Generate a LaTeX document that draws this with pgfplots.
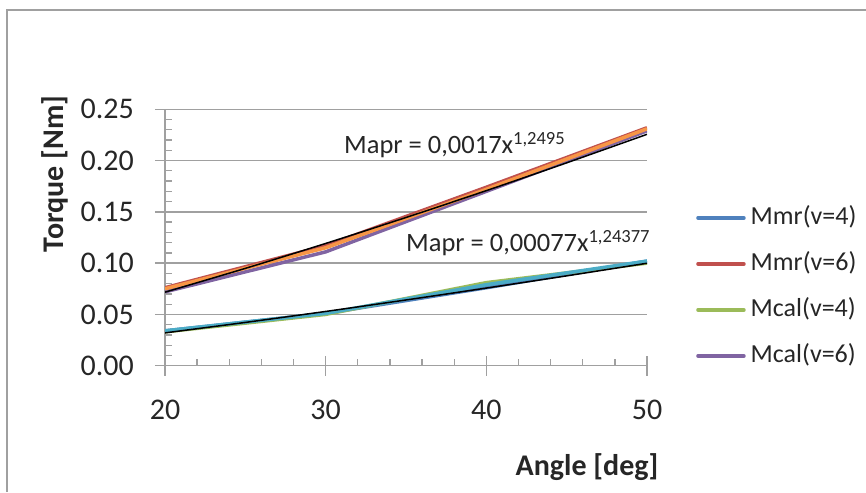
\documentclass[border=0pt]{standalone}
\usepackage{fontspec}
\setmainfont{Carlito}
\usepackage{pgfplots}
\pgfplotsset{compat=1.18}
\definecolor{xblue}{HTML}{4F81BD}
\definecolor{xred}{HTML}{C0504D}
\definecolor{xgreen}{HTML}{9BBB59}
\definecolor{xpurple}{HTML}{8064A2}
\definecolor{xaqua}{HTML}{4BACC6}
\definecolor{xorange}{HTML}{F79646}
\definecolor{axgray}{HTML}{A0A0A0}

\begin{document}
\begin{tikzpicture}
\useasboundingbox (0pt,0pt) rectangle (866pt,492pt);
\draw[axgray, line width=1.5pt] (7pt,0pt) -- (7pt,482pt) -- (866pt,482pt);
\begin{axis}[
    at={(165pt,126.3pt)}, anchor=south west,
    scale only axis, width=482pt, height=256.4pt,
    xmin=20, xmax=50, ymin=0, ymax=0.25,
    axis x line*=bottom, axis y line*=left,
    axis line style={axgray, line width=1.3pt, -},
    xtick={20,30,40,50}, ytick={0,0.05,...,0.25},
    minor x tick num=4, minor y tick num=4,
    tick align=inside, major tick length=0pt, minor tick length=7pt,
    tick style={axgray, line width=1.3pt},
    extra x ticks={20,30,40,50}, extra x tick labels={},
    extra x tick style={tick align=center, major tick length=20pt, grid=none},
    extra y ticks={0,0.05,0.1,0.15,0.2,0.25}, extra y tick labels={},
    extra y tick style={tick align=outside, major tick length=10pt, grid=none},
    ymajorgrids, major grid style={axgray, line width=1.3pt},
    tick label style={font=\fontsize{30}{36}\selectfont, text=black!85},
    yticklabel style={anchor=east, inner sep=0pt, xshift=-31pt,
        /pgf/number format/.cd, fixed, fixed zerofill, precision=2, assume math mode=true},
    xticklabel style={anchor=center, inner sep=0pt, yshift=-44pt,
        /pgf/number format/assume math mode=true},
    legend style={at={(axis description cs:1.1017,0.307)}, anchor=west,
        draw=none, fill=none, inner sep=0pt, column sep=5pt, row sep=20pt,
        font=\fontsize{26}{31}\selectfont,
        nodes={inner sep=0pt, text height=20pt, text depth=6pt, text=black!85}},
    legend cell align=left,
    legend image code/.code={\draw[#1, line cap=round] (0pt,0pt) -- (46pt,0pt);},
    every axis plot/.append style={line width=3.5pt},
]
\addplot[xblue] coordinates {(20,0.034) (30,0.051) (40,0.076) (50,0.102)};
\addlegendentry{Mmr(v=4)}
\addplot[xred] coordinates {(20,0.076) (30,0.117) (40,0.174) (50,0.232)};
\addlegendentry{Mmr(v=6)}
\addplot[xgreen] coordinates {(20,0.033) (30,0.050) (40,0.081) (50,0.100)};
\addlegendentry{Mcal(v=4)}
\addplot[xpurple] coordinates {(20,0.072) (30,0.111) (40,0.170) (50,0.229)};
\addlegendentry{Mcal(v=6)}
\addplot[xaqua, forget plot] coordinates {(20,0.034) (30,0.051) (40,0.079) (50,0.102)};
\addplot[xorange, forget plot] coordinates {(20,0.075) (30,0.115) (40,0.172) (50,0.231)};
% power trendlines
\addplot[black, line width=1.5pt, smooth, forget plot] coordinates {
 (20,0.0717) (25,0.0949) (30,0.1192) (35,0.1445) (40,0.1707) (45,0.1978) (50,0.2256)};
\addplot[black, line width=1.5pt, smooth, forget plot] coordinates {
 (20,0.0320) (25,0.0422) (30,0.0529) (35,0.0641) (40,0.0757) (45,0.0876) (50,0.0999)};
\end{axis}
\node[rotate=90, font=\bfseries\fontsize{30}{36}\selectfont, text=black!85, inner sep=0pt]
    at (55pt,318pt) {Torque [Nm]};
\node[font=\bfseries\fontsize{30}{36}\selectfont, text=black!85, inner sep=0pt]
    at (587pt,25pt) {Angle [deg]};
\node[anchor=base west, font=\fontsize{26.5}{32}\selectfont, text=black!85, inner sep=0pt]
    at (344pt,338.7pt) {Mapr = 0,0017x\textsuperscript{1,2495}};
\node[anchor=base west, font=\fontsize{26.5}{32}\selectfont, text=black!85, inner sep=0pt]
    at (406pt,240.3pt) {Mapr = 0,00077x\textsuperscript{1,24377}};
\end{tikzpicture}
\end{document}
